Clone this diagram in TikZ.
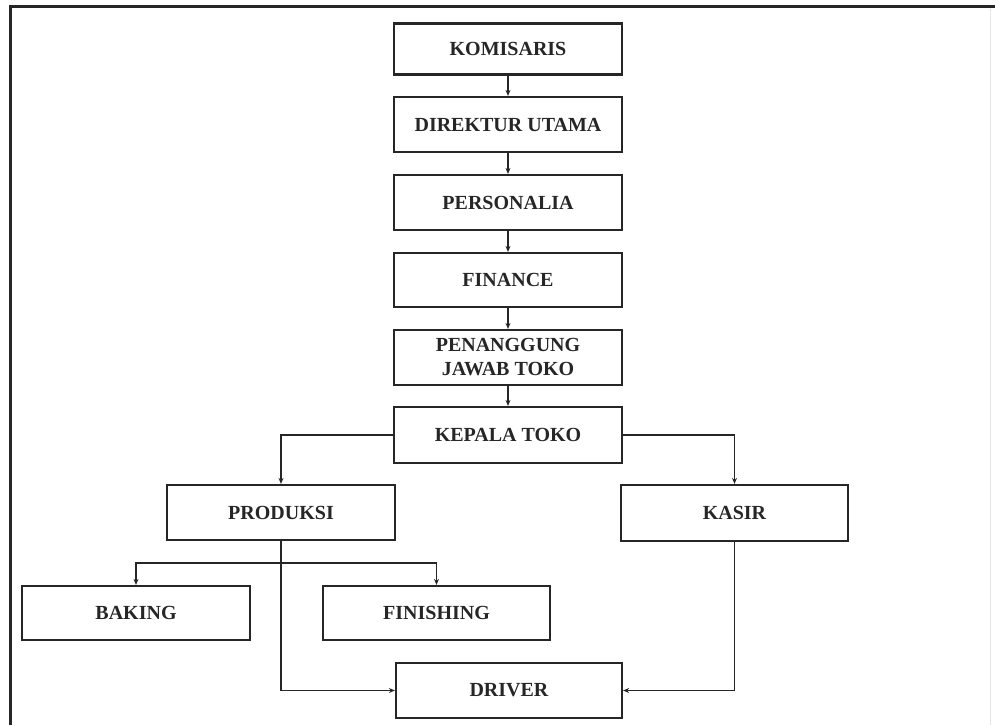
\documentclass[tikz,border=0pt]{standalone}
\usepackage{fontspec}
\setmainfont{Liberation Serif}
\usetikzlibrary{arrows.meta}
\begin{document}
\begin{tikzpicture}[x=1pt,y=-1pt,
  box/.style={draw=black!85,line width=2.2pt,rectangle,inner sep=0pt,
    font=\fontsize{20}{24}\selectfont\bfseries,align=center,text=black!85},
  arr/.style={line width=1.8pt,draw=black!85,-{Stealth[length=6pt,width=5pt]}},
  ln/.style={line width=1.8pt,draw=black!85}]
\useasboundingbox (0,0) rectangle (995,725);
\fill[white] (0,0) rectangle (995,725);
\draw[line width=3pt,black!85] (10,725) -- (10,7) -- (995,7);
\draw[line width=0.6pt,black!10] (990,9) -- (990,725);
\node[box,minimum width=228pt,minimum height=51pt] (kom) at (508,49) {KOMISARIS};
\node[box,minimum width=228pt,minimum height=55pt] (dir) at (508,124.5) {DIREKTUR UTAMA};
\node[box,minimum width=228pt,minimum height=55pt] (per) at (508,202.5) {PERSONALIA};
\node[box,minimum width=228pt,minimum height=54pt] (fin) at (508,280) {FINANCE};
\node[box,minimum width=228pt,minimum height=55pt] (pjt) at (508,357.5) {PENANGGUNG\\JAWAB TOKO};
\node[box,minimum width=228pt,minimum height=56pt] (kep) at (508,435) {KEPALA TOKO};
\node[box,minimum width=228pt,minimum height=55pt] (pro) at (281,512.5) {PRODUKSI};
\node[box,minimum width=227pt,minimum height=56pt] (kas) at (734.5,513) {KASIR};
\node[box,minimum width=228pt,minimum height=54pt] (bak) at (136,613) {BAKING};
\node[box,minimum width=227pt,minimum height=54pt] (fsh) at (436.5,613) {FINISHING};
\node[box,minimum width=226pt,minimum height=55pt] (drv) at (509,690.5) {DRIVER};
\draw[arr] (kom) -- (dir);
\draw[arr] (dir) -- (per);
\draw[arr] (per) -- (fin);
\draw[arr] (fin) -- (pjt);
\draw[arr] (pjt) -- (kep);
\draw[arr] (kep.west) -| (pro.north);
\draw[arr] (kep.east) -| (kas.north);
\coordinate (bus) at (281,563);
\draw[arr] (bus) -| (bak.north);
\draw[arr] (bus) -| (fsh.north);
\draw[arr] (pro.south) |- (drv.west);
\draw[arr] (kas.south) |- (drv.east);
\end{tikzpicture}
\end{document}
